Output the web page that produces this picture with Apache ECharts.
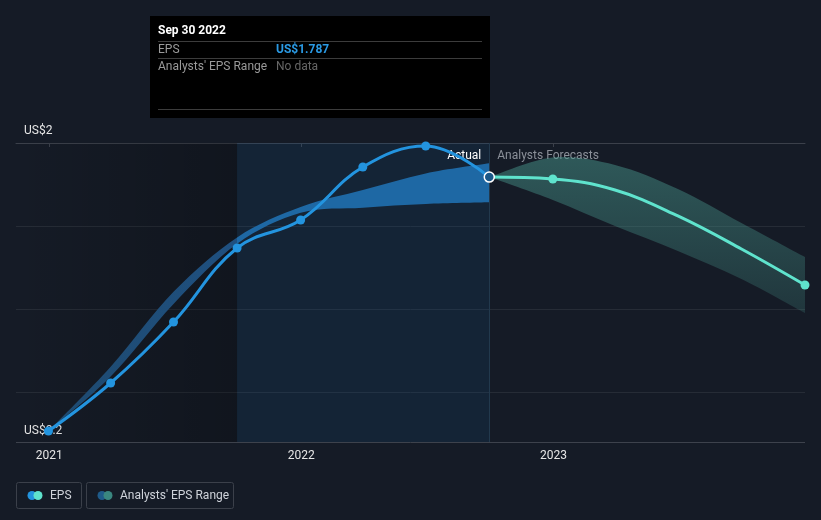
<!DOCTYPE html>
<html>
<head>
<meta charset="utf-8">
<script src="https://cdn.jsdelivr.net/npm/echarts@6/dist/echarts.min.js"></script>
<style>
  html, body { margin: 0; padding: 0; background: #151b26; }
  #main { width: 821px; height: 520px; }
</style>
</head>
<body>
<div id="main"></div>
<script>
// actual quarterly EPS
const quarters = ['2020-12-31', '2021-03-31', '2021-06-30', '2021-09-30', '2021-12-31', '2022-03-31', '2022-06-30', '2022-09-30']
const epsActual = [0.2, 0.5, 0.881, 1.344, 1.519, 1.85, 1.981, 1.787]
const pastRangeLow = [0.2, 0.54, 0.994, 1.37, 1.564, 1.596, 1.619, 1.629]
const pastRangeHigh = [0.2, 0.602, 1.07, 1.41, 1.6, 1.706, 1.81, 1.873]

// analysts forecast
const forecastDates = ['2022-09-30', '2022-12-31', '2023-03-31', '2023-06-30', '2023-09-30', '2023-12-31']
const epsForecast = [1.787, 1.775, 1.706, 1.544, 1.3375, 1.1125]
const forecastLow = [1.787, 1.644, 1.481, 1.325, 1.15, 0.9375]
const forecastHigh = [1.787, 1.909, 1.8625, 1.7125, 1.5, 1.2875]
const forecastMarked = ['2022-12-31', '2023-12-31']

const yearTicks = ['2021-01-01', '2022-01-01', '2023-01-01']
const yLabelValues = [0.2, 2]
const axisStart = '2020-11-14'
const axisEnd = '2023-12-31'
const pastYearStart = '2021-09-30'
const lastActual = '2022-09-30'

// dates go on a plain value axis as timestamps
const ts = function (s) { return echarts.number.parseDate(s).getTime() }

// smooth curve through points (catmull-rom as cubic bezier)
function curvePath (pts, move) {
  let s = (move ? 'M' : 'L') + pts[0][0] + ' ' + pts[0][1]
  for (let i = 0; i < pts.length - 1; i++) {
    let p0 = pts[Math.max(i - 1, 0)]
    let p1 = pts[i]
    let p2 = pts[i + 1]
    let p3 = pts[Math.min(i + 2, pts.length - 1)]
    let c1x = p1[0] + (p2[0] - p0[0]) / 6
    let c1y = p1[1] + (p2[1] - p0[1]) / 6
    let c2x = p2[0] - (p3[0] - p1[0]) / 6
    let c2y = p2[1] - (p3[1] - p1[1]) / 6
    s += ' C' + c1x + ' ' + c1y + ' ' + c2x + ' ' + c2y + ' ' + p2[0] + ' ' + p2[1]
  }
  return s
}

// range band drawn as one filled shape between the low and high edges
function bandRenderer (fill) {
  return function (params, api) {
    if (params.dataIndex !== 0) return
    let n = params.dataInsideLength
    let top = []
    let bottom = []
    for (let i = 0; i < n; i++) {
      top.push(api.coord([api.value(0, i), api.value(2, i)]))
      bottom.push(api.coord([api.value(0, i), api.value(1, i)]))
    }
    bottom.reverse()
    let d = curvePath(top, true) + ' ' + curvePath(bottom, false) + ' Z'
    return {
      type: 'path',
      shape: { pathData: d },
      style: { fill: fill }
    }
  }
}

let chart = echarts.init(document.getElementById('main'))

// past band: colour switches where the highlighted "last year" starts
let split = (ts(pastYearStart) - ts(quarters[0])) / (ts(lastActual) - ts(quarters[0]))

let epsData = quarters.map(function (d, i) {
  let item = { value: [ts(d), epsActual[i]] }
  if (d === lastActual) {
    item.symbolSize = 10
    item.itemStyle = { color: '#1b5888', borderColor: '#ffffff', borderWidth: 1.5 }
  }
  return item
})

let fcData = forecastDates.map(function (d, i) {
  let shown = forecastMarked.indexOf(d) >= 0
  return { value: [ts(d), epsForecast[i]], symbol: shown ? 'circle' : 'none' }
})

let font = 'Roboto'

let option = {
  backgroundColor: '#151b26',
  animation: false,
  grid: { left: 16, right: 16, top: 143, bottom: 78 },
  xAxis: {
    type: 'value',
    min: ts(axisStart),
    max: ts(axisEnd),
    axisLine: { lineStyle: { color: '#3b404a', width: 1 } },
    axisTick: { show: true, length: 4, lineStyle: { color: '#3b404a' }, customValues: yearTicks.map(ts) },
    axisLabel: {
      customValues: yearTicks.map(ts),
      color: '#e6e6e6',
      fontFamily: font,
      fontSize: 12,
      margin: 8,
      formatter: function (v) { return String(new Date(v).getFullYear()) }
    },
    splitLine: { show: false }
  },
  yAxis: [
    {
      type: 'value',
      min: 0.13125,
      max: 2,
      axisLine: { show: false },
      axisTick: { show: false },
      splitLine: { show: false },
      axisLabel: {
        inside: true,
        margin: 8,
        customValues: yLabelValues,
        color: '#e6e6e6',
        fontFamily: font,
        fontSize: 12,
        formatter: function (v) {
          return v >= 2 ? '{top|US$' + v + '}' : '{bot|US$' + v + '}'
        },
        rich: {
          top: { padding: [0, 0, 24, 0], fontFamily: font, fontSize: 12, color: '#e6e6e6' },
          bot: { fontFamily: font, fontSize: 12, color: '#e6e6e6' }
        }
      }
    },
    {
      // only gives the grid lines
      type: 'value',
      inverse: true,
      min: 0,
      max: 3.6024,
      interval: 1,
      axisLine: { show: false },
      axisTick: { show: false },
      axisLabel: { show: false },
      splitLine: { lineStyle: { color: ['#3d424c', '#262c36', '#262c36', '#262c36'], width: 1 } }
    }
  ],
  series: [
    {
      name: 'bg',
      type: 'line',
      data: [],
      markArea: {
        silent: true,
        data: [
          [{
            xAxis: ts(axisStart),
            itemStyle: {
              color: new echarts.graphic.LinearGradient(0, 0, 1, 0, [
                { offset: 0, color: 'rgba(0,0,0,0)' },
                { offset: 1, color: 'rgba(0,0,0,0.22)' }
              ])
            }
          }, { xAxis: ts(pastYearStart) }],
          [{
            xAxis: ts(pastYearStart),
            itemStyle: { color: 'rgba(20,85,140,0.16)' },
            label: { show: true, position: 'insideTopRight', formatter: 'Actual', color: '#ffffff', fontFamily: font, fontSize: 12, distance: 5, offset: [-3, 2] }
          }, { xAxis: ts(lastActual) }],
          [{
            xAxis: ts(lastActual),
            itemStyle: { color: 'rgba(0,0,0,0)' },
            label: { show: true, position: 'insideTopLeft', formatter: 'Analysts Forecasts', color: '#8b9099', fontFamily: font, fontSize: 12, distance: 5, offset: [3, 2] }
          }, { xAxis: ts(axisEnd) }]
        ]
      },
      markLine: {
        silent: true,
        symbol: 'none',
        label: { show: false },
        lineStyle: { color: '#22394d', width: 1, type: 'solid' },
        data: [{ xAxis: ts(lastActual) }]
      }
    },
    {
      name: "Analysts' EPS Range",
      type: 'custom',
      renderItem: bandRenderer(new echarts.graphic.LinearGradient(0, 0, 1, 0, [
        { offset: 0, color: '#1e4a70' },
        { offset: split, color: '#1f5080' },
        { offset: split, color: '#1e68a4' },
        { offset: 1, color: '#1e68a4' }
      ])),
      encode: { x: 0, y: [1, 2] },
      data: quarters.map(function (d, i) { return [ts(d), pastRangeLow[i], pastRangeHigh[i]] }),
      z: 2
    },
    {
      name: 'forecast range',
      type: 'custom',
      renderItem: bandRenderer(new echarts.graphic.LinearGradient(0, 0, 0, 1, [
        { offset: 0, color: 'rgba(72,150,140,0.5)' },
        { offset: 1, color: 'rgba(72,150,140,0.22)' }
      ])),
      encode: { x: 0, y: [1, 2] },
      data: forecastDates.map(function (d, i) { return [ts(d), forecastLow[i], forecastHigh[i]] }),
      z: 2
    },
    {
      name: 'EPS forecast',
      type: 'line',
      smooth: 0.4,
      symbol: 'circle',
      symbolSize: 9,
      showAllSymbol: true,
      lineStyle: { color: '#5fe3cd', width: 3 },
      itemStyle: { color: '#5fe3cd' },
      data: fcData,
      z: 4
    },
    {
      name: 'EPS',
      type: 'line',
      smooth: 0.4,
      symbol: 'circle',
      symbolSize: 9,
      showAllSymbol: true,
      lineStyle: { color: '#2394df', width: 3 },
      itemStyle: { color: '#2394df' },
      data: epsData,
      z: 5
    }
  ],
  graphic: [
    // fixed tooltip box
    { type: 'rect', shape: { x: 150, y: 16, width: 340, height: 102 }, style: { fill: '#000000' }, z: 100 },
    { type: 'text', x: 158, y: 31, style: { text: 'Sep 30 2022', fill: '#ffffff', font: 'bold 12px Roboto', verticalAlign: 'middle' }, z: 101 },
    { type: 'line', shape: { x1: 158, y1: 41.5, x2: 482, y2: 41.5 }, style: { stroke: '#3c3c3c', lineWidth: 1 }, z: 101 },
    { type: 'text', x: 158, y: 49.5, style: { text: 'EPS', fill: '#9a9a9a', font: '12px Roboto', verticalAlign: 'middle' }, z: 101 },
    { type: 'text', x: 276, y: 49.5, style: { text: 'US$' + epsActual[epsActual.length - 1].toFixed(3), fill: '#2a9ae4', font: 'bold 12px Roboto', verticalAlign: 'middle' }, z: 101 },
    { type: 'line', shape: { x1: 158, y1: 58.5, x2: 482, y2: 58.5 }, style: { stroke: '#3c3c3c', lineWidth: 1 }, z: 101 },
    { type: 'text', x: 158, y: 66.5, style: { text: "Analysts' EPS Range", fill: '#9a9a9a', font: '12px Roboto', verticalAlign: 'middle' }, z: 101 },
    { type: 'text', x: 276, y: 66.5, style: { text: 'No data', fill: '#666666', font: '12px Roboto', verticalAlign: 'middle' }, z: 101 },
    { type: 'line', shape: { x1: 158, y1: 109.5, x2: 482, y2: 109.5 }, style: { stroke: '#3c3c3c', lineWidth: 1 }, z: 101 },
    // legend
    { type: 'rect', shape: { x: 16.5, y: 482.5, width: 65, height: 26, r: 2 }, style: { fill: 'none', stroke: '#3b404a', lineWidth: 1 }, z: 100 },
    { type: 'circle', shape: { cx: 32, cy: 495.5, r: 4.5 }, style: { fill: '#2394df' }, z: 101 },
    { type: 'circle', shape: { cx: 38, cy: 495.5, r: 4.5 }, style: { fill: '#5fe3cd' }, z: 102 },
    { type: 'text', x: 50, y: 495.5, style: { text: 'EPS', fill: '#cfd3da', font: '12px Roboto', verticalAlign: 'middle' }, z: 101 },
    { type: 'rect', shape: { x: 86.5, y: 482.5, width: 147, height: 26, r: 2 }, style: { fill: 'none', stroke: '#3b404a', lineWidth: 1 }, z: 100 },
    { type: 'circle', shape: { cx: 102, cy: 495.5, r: 4.5 }, style: { fill: '#1f5b8a' }, z: 101 },
    { type: 'circle', shape: { cx: 108, cy: 495.5, r: 4.5 }, style: { fill: '#3a8780' }, z: 102 },
    { type: 'text', x: 120, y: 495.5, style: { text: "Analysts' EPS Range", fill: '#cfd3da', font: '12px Roboto', verticalAlign: 'middle' }, z: 101 }
  ]
}
chart.setOption(option)
</script>
</body>
</html>
